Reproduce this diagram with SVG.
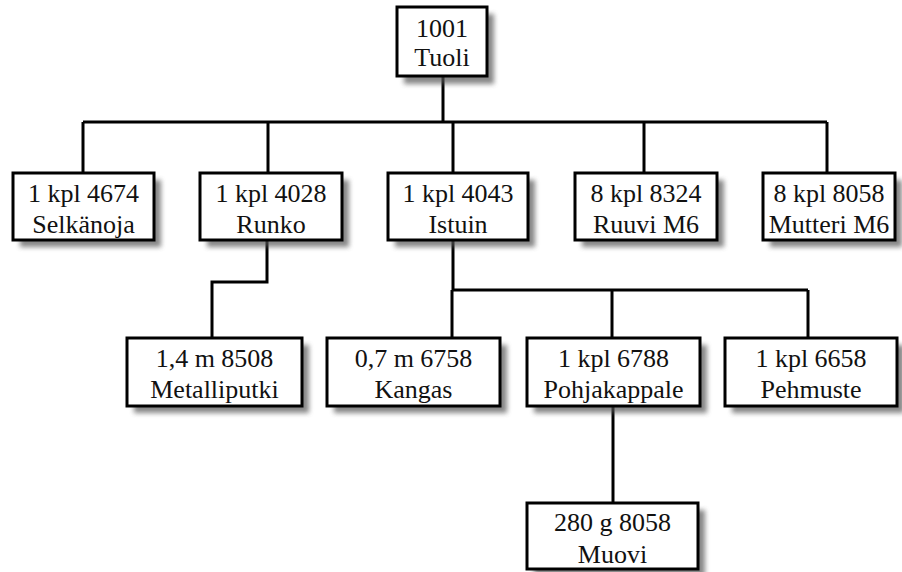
<svg xmlns="http://www.w3.org/2000/svg" width="902" height="572" viewBox="0 0 902 572">
<defs>
<filter id="sh" x="-20%" y="-20%" width="150%" height="150%">
<feGaussianBlur stdDeviation="2.5"/>
</filter>
</defs>
<style>
.box{fill:#fff;stroke:#000;stroke-width:3}
.shadow{fill:#555;opacity:0.7;filter:url(#sh)}
.t{font-family:"Liberation Serif","Times New Roman",serif;font-size:26px;fill:#111;text-anchor:middle}
.c{fill:none;stroke:#000;stroke-width:3}
</style>
<rect width="902" height="572" fill="#fff"/>
<g id="connectors">
<path class="c" d="M443 77V122M83 122H827M83 122V173M268 122V173M453 122V173M644 122V173M827 122V173"/>
<path class="c" d="M267 240V282H212V338"/>
<path class="c" d="M453 240V290M452 290H808M452 290V338M612 290V338M808 290V338"/>
<path class="c" d="M613 406V503"/>
</g>
<g id="n1001">
<rect class="shadow" x="404" y="14" width="90" height="70"/>
<rect class="box" x="397" y="7" width="90" height="69"/>
<text class="t" x="442" y="37">1001</text>
<text class="t" x="442" y="66">Tuoli</text>
</g>
<g id="n4674">
<rect class="shadow" x="20" y="180" width="141" height="67"/>
<rect class="box" x="13" y="173" width="141" height="67"/>
<text class="t" x="83.5" y="202">1 kpl 4674</text>
<text class="t" x="83.5" y="233">Selkänoja</text>
</g>
<g id="n4028">
<rect class="shadow" x="207" y="180" width="142" height="67"/>
<rect class="box" x="200" y="173" width="142" height="67"/>
<text class="t" x="271" y="202">1 kpl 4028</text>
<text class="t" x="271" y="233">Runko</text>
</g>
<g id="n4043">
<rect class="shadow" x="395" y="180" width="140" height="67"/>
<rect class="box" x="388" y="173" width="140" height="67"/>
<text class="t" x="458" y="202">1 kpl 4043</text>
<text class="t" x="458" y="233">Istuin</text>
</g>
<g id="n8324">
<rect class="shadow" x="582" y="180" width="142" height="67"/>
<rect class="box" x="575" y="173" width="142" height="67"/>
<text class="t" x="646" y="202">8 kpl 8324</text>
<text class="t" x="646" y="233">Ruuvi M6</text>
</g>
<g id="n8058a">
<rect class="shadow" x="770" y="180" width="132" height="67"/>
<rect class="box" x="763" y="173" width="132" height="67"/>
<text class="t" x="829" y="202">8 kpl 8058</text>
<text class="t" x="829" y="233">Mutteri M6</text>
</g>
<g id="n8508">
<rect class="shadow" x="134" y="345" width="175" height="68"/>
<rect class="box" x="127" y="338" width="175" height="68"/>
<text class="t" x="214.5" y="367">1,4 m 8508</text>
<text class="t" x="214.5" y="398">Metalliputki</text>
</g>
<g id="n6758">
<rect class="shadow" x="334" y="345" width="173" height="68"/>
<rect class="box" x="327" y="338" width="173" height="68"/>
<text class="t" x="413.5" y="367">0,7 m 6758</text>
<text class="t" x="413.5" y="398">Kangas</text>
</g>
<g id="n6788">
<rect class="shadow" x="534" y="345" width="173" height="68"/>
<rect class="box" x="527" y="338" width="173" height="68"/>
<text class="t" x="613.5" y="367">1 kpl 6788</text>
<text class="t" x="613.5" y="398">Pohjakappale</text>
</g>
<g id="n6658">
<rect class="shadow" x="732" y="345" width="172" height="68"/>
<rect class="box" x="725" y="338" width="172" height="68"/>
<text class="t" x="811" y="367">1 kpl 6658</text>
<text class="t" x="811" y="398">Pehmuste</text>
</g>
<g id="n8058b">
<rect class="shadow" x="534" y="510" width="171" height="66"/>
<rect class="box" x="527" y="503" width="171" height="66"/>
<text class="t" x="612.5" y="531">280 g 8058</text>
<text class="t" x="612.5" y="563">Muovi</text>
</g>
</svg>
